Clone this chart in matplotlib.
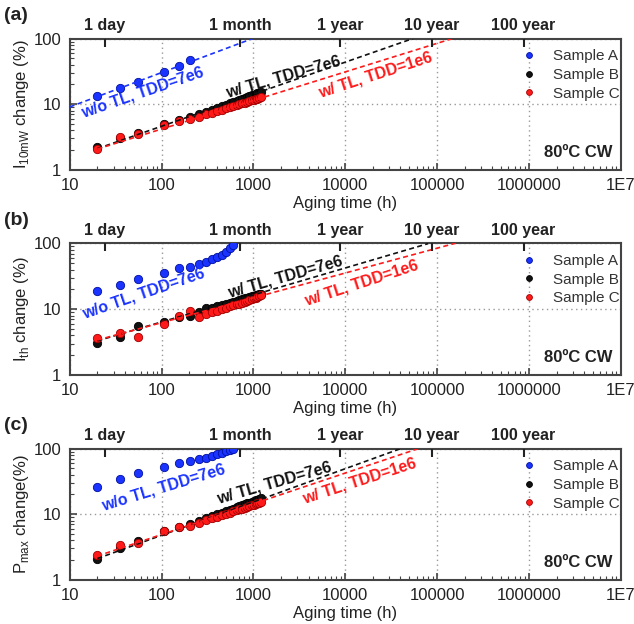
import matplotlib
matplotlib.use("Agg")
import matplotlib.pyplot as plt
import numpy as np
from matplotlib.ticker import FixedLocator, FuncFormatter, LogLocator, NullFormatter

plt.rcParams["font.family"] = ["Liberation Sans", "DejaVu Sans"]
plt.rcParams["mathtext.fontset"] = "custom"
plt.rcParams["mathtext.rm"] = "Liberation Sans"

# aging times (h)
T_A_SHORT = [20, 35, 55, 105, 155, 205]
T_A_LONG = [20, 35, 55, 105, 155, 205, 255, 305, 355, 405, 455, 505, 555, 605]
T_BC = [20, 35, 55, 105, 155, 205, 255, 305, 355, 405, 455, 505, 555, 605,
        655, 705, 755, 805, 855, 905, 955, 1005, 1055, 1105, 1155, 1205]

# (a) I_10mW change (%)
I10_A = [13.2, 17.7, 21.7, 30.8, 38.0, 48.0]
I10_B = [2.2, 3.0, 3.6, 5.0, 5.7, 6.3, 7.0, 7.6, 8.2, 8.8, 9.3, 9.8, 10.3,
         10.8, 11.3, 11.7, 12.1, 12.5, 12.9, 13.3, 13.7, 14.0, 14.4, 14.7, 15.0, 15.3]
I10_C = [2.1, 3.2, 3.5, 4.9, 5.6, 6.0, 6.3, 7.0, 7.3, 7.8, 8.2, 8.6, 9.0,
         9.3, 9.7, 10.0, 10.3, 10.6, 10.9, 11.2, 11.5, 11.7, 12.0, 12.2, 12.5, 12.7]

# (b) I_th change (%)
ITH_A = [19.1, 23.3, 28.5, 35.9, 41.8, 44.0, 48.0, 52.7, 57.3, 61.4, 66.6, 74.8, 84.0, 94.6]
ITH_B = [3.1, 3.8, 5.5, 6.4, 7.6, 8.0, 9.2, 10.3, 10.6, 11.0, 11.5, 12.0, 12.5,
         13.0, 13.4, 13.8, 14.2, 14.6, 15.0, 15.3, 15.7, 16.0, 16.3, 16.6, 16.9, 17.2]
ITH_C = [3.6, 4.4, 3.8, 6.0, 7.9, 9.4, 7.5, 8.6, 9.0, 9.4, 10.0, 10.5, 11.0,
         11.4, 11.8, 12.2, 12.6, 13.0, 13.4, 13.8, 14.2, 14.6, 15.0, 15.4, 15.8, 16.2]

# (c) P_max change (%)
PMAX_A = [26.3, 34.8, 42.0, 52.5, 59.8, 64.8, 68.8, 73.0, 77.0, 82.0, 87.0, 92.0, 95.5, 99.0]
PMAX_B = [2.1, 3.1, 3.9, 5.6, 6.4, 7.2, 7.9, 8.6, 9.3, 9.9, 10.5, 11.1, 11.7,
          12.2, 12.7, 13.2, 13.7, 14.2, 14.6, 15.0, 15.5, 15.9, 16.3, 16.7, 17.0, 17.4]
PMAX_C = [2.4, 3.4, 3.6, 5.5, 6.4, 6.6, 7.4, 8.1, 8.6, 9.1, 9.6, 10.1, 10.6,
          11.0, 11.4, 11.8, 12.2, 12.6, 12.9, 13.3, 13.6, 14.0, 14.3, 14.6, 14.9, 15.2]

# power-law extrapolations: (prefactor, exponent, t_start, t_end)
FIT_A = [(2.72, 0.524, 10, 1.1e3), None, None]
FIT_B = [(0.485, 0.489, 20, 6e4), (0.968, 0.41, 20, 8e4), (0.459, 0.508, 20, 4e4)]
FIT_C = [(0.561, 0.436, 20, 1.5e5), (1.10, 0.377, 20, 1.6e5), (0.564, 0.469, 20, 6.3e4)]

# fit labels: (x, y, rotation) in data coords
LBL_A = [(62, 15.0, 19), (64, 17.6, 19), (105, 25.6, 17)]
LBL_B = [(2100, 26.3, 16), (2230, 30.9, 16), (1700, 29.5, 16)]
LBL_C = [(21500, 28.2, 18), (14900, 25.0, 18), (14200, 31.7, 18)]

TOP_TICKS = [24, 720, 8760, 87600, 876000]
TOP_LABELS = ["1 day", "1 month", "1 year", "10 year", "100 year"]

YLABELS = [r"I$_{\mathrm{10mW}}$ change (%)", r"I$_{\mathrm{th}}$ change (%)",
           r"P$_{\mathrm{max}}$ change(%)"]
PANELS = ["(a)", "(b)", "(c)"]

COLORS = {"A": "#1a33ff", "B": "#111111", "C": "#ff1a1a"}
EDGES = {"A": "#0010a0", "B": "#000000", "C": "#a00000"}
TEXT = "#222222"
FRAME = "#444444"

XTICK_LABELS = {10: "10", 100: "100", 1000: "1000", 10000: "10000",
                100000: "100000", 1000000: "1000000", 10000000: "1E7"}

fig = plt.figure(figsize=(6.34, 6.24), dpi=100)
axes_rects = [
    [0.110, 0.728, 0.869, 0.210],
    [0.110, 0.399, 0.869, 0.211],
    [0.110, 0.071, 0.869, 0.210],
]

series = [
    (T_A_SHORT, I10_A, I10_B, I10_C),
    (T_A_LONG, ITH_A, ITH_B, ITH_C),
    (T_A_LONG, PMAX_A, PMAX_B, PMAX_C),
]


def draw_fit(ax, fit, color):
    a, n, t0, t1 = fit
    t = np.logspace(np.log10(t0), np.log10(t1), 100)
    ax.plot(t, a * t ** n, ls=(0, (3, 2)), lw=1.2, color=color, zorder=4)


for i, rect in enumerate(axes_rects):
    ax = fig.add_axes(rect)
    t_a, ya, yb, yc = series[i]

    ax.set_xscale("log")
    ax.set_yscale("log")
    ax.set_xlim(10, 1e7)
    ax.set_ylim(1, 100)

    for key, tt, yy, lbl in [("A", t_a, ya, "Sample A"),
                             ("B", T_BC, yb, "Sample B"),
                             ("C", T_BC, yc, "Sample C")]:
        ax.plot(tt, yy, "o", ms=6, color=COLORS[key], mec=EDGES[key],
                mew=0.6, label=lbl, zorder=3)

    if FIT_A[i] is not None:
        draw_fit(ax, FIT_A[i], COLORS["A"])
    draw_fit(ax, FIT_B[i], COLORS["B"])
    draw_fit(ax, FIT_C[i], COLORS["C"])

    for (x, y, rot), txt, c in [(LBL_A[i], "w/o TL, TDD=7e6", COLORS["A"]),
                                (LBL_B[i], "w/ TL, TDD=7e6", COLORS["B"]),
                                (LBL_C[i], "w/ TL, TDD=1e6", COLORS["C"])]:
        ax.text(x, y, txt, color=c, fontsize=11.5, fontweight="bold",
                rotation=rot, ha="center", va="center", rotation_mode="anchor",
                zorder=5)

    ax.xaxis.set_major_locator(FixedLocator(list(XTICK_LABELS)))
    ax.xaxis.set_major_formatter(FuncFormatter(lambda v, p: XTICK_LABELS.get(int(round(v)), "")))
    ax.xaxis.set_minor_locator(LogLocator(base=10, subs=np.arange(2, 10), numticks=20))
    ax.xaxis.set_minor_formatter(NullFormatter())
    ax.yaxis.set_major_locator(FixedLocator([1, 10, 100]))
    ax.yaxis.set_major_formatter(FuncFormatter(lambda v, p: f"{int(round(v))}"))
    ax.yaxis.set_minor_locator(LogLocator(base=10, subs=np.arange(2, 10), numticks=10))
    ax.yaxis.set_minor_formatter(NullFormatter())

    ax.tick_params(which="both", direction="in", top=False, right=False,
                   colors=FRAME, labelcolor=TEXT, labelsize=12)
    ax.tick_params(which="major", length=5, width=1.2)
    ax.tick_params(which="minor", length=3, width=0.8)
    ax.tick_params(axis="x", which="major", pad=6)
    ax.tick_params(axis="y", which="major", pad=6)

    ax.grid(True, which="major", ls=(0, (1, 2.5)), color="#999999", lw=1.0)
    for sp in ax.spines.values():
        sp.set_color(FRAME)
        sp.set_linewidth(1.5)

    ax.set_xlabel("Aging time (h)", fontsize=12, color=TEXT, labelpad=2)
    ax.set_ylabel(YLABELS[i], fontsize=12, color=TEXT, labelpad=2)

    leg = ax.legend(loc="upper right", bbox_to_anchor=(1.018, 1.0), frameon=False,
                    fontsize=11, handletextpad=1.1, handlelength=1.0,
                    borderaxespad=0.3, labelspacing=0.3, markerscale=0.7)
    for t in leg.get_texts():
        t.set_color("#333333")

    ax.text(0.985, 0.13, "80ºC CW", transform=ax.transAxes, ha="right",
            va="center", fontsize=12, fontweight="bold", color=TEXT)

    top = ax.twiny()
    top.set_xscale("log")
    top.set_xlim(ax.get_xlim())
    top.xaxis.set_major_locator(FixedLocator(TOP_TICKS))
    top.xaxis.set_minor_locator(FixedLocator([]))
    top.tick_params(axis="x", direction="in", length=6, width=1.5, color="#222222",
                    labelsize=11.5, pad=4)
    for sp in top.spines.values():
        sp.set_visible(False)
    top.set_xticklabels(TOP_LABELS, fontweight="bold", color=TEXT)

    fig.text(0.006, rect[1] + rect[3] + 0.037, PANELS[i], fontsize=14,
             fontweight="bold", color=TEXT, ha="left", va="center")

fig.savefig("out.png", dpi=100)
